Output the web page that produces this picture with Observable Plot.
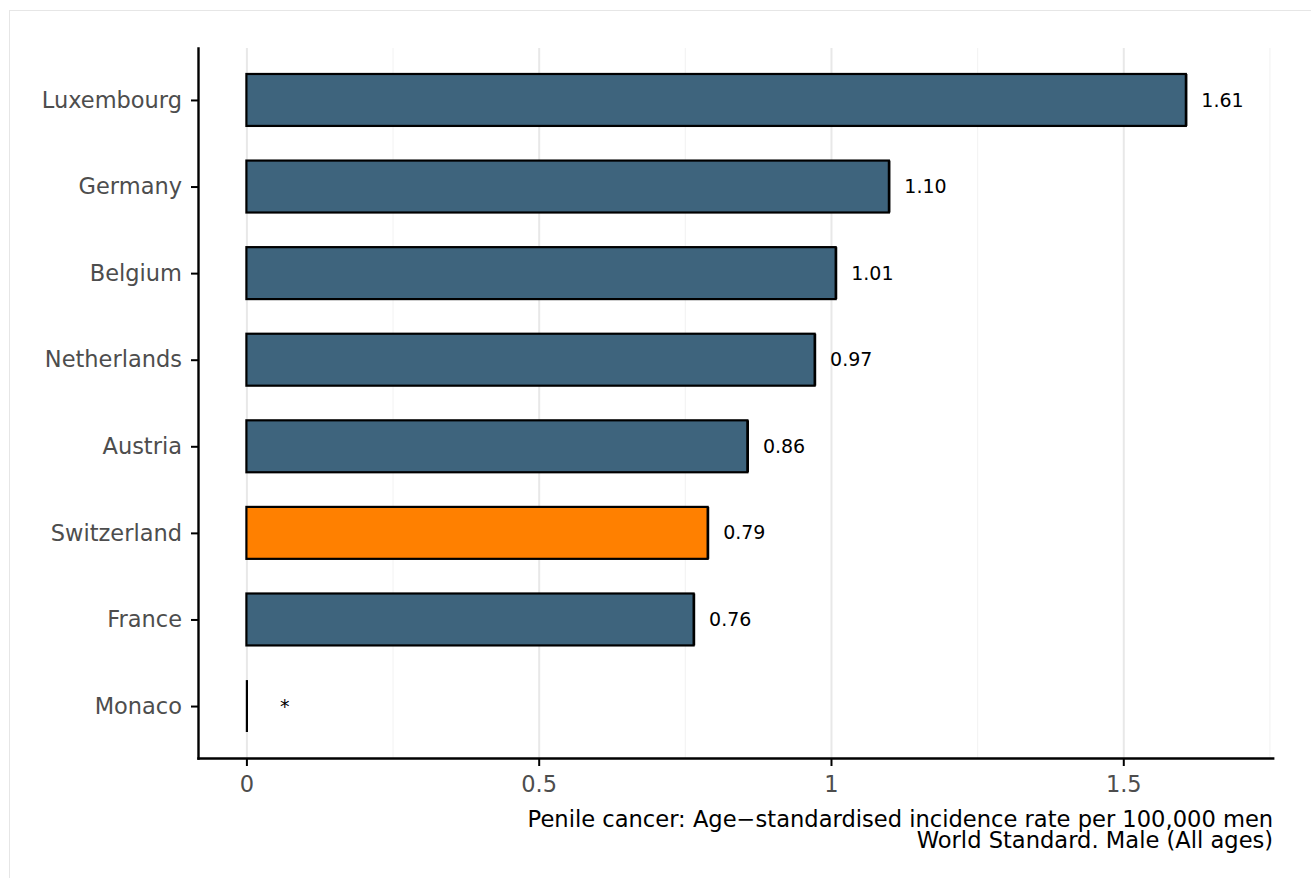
<!DOCTYPE html>
<html>
<head>
<meta charset="utf-8">
<script src="https://cdn.jsdelivr.net/npm/d3@7"></script>
<script src="https://cdn.jsdelivr.net/npm/@observablehq/plot@0.6"></script>
<style>
  html, body { margin: 0; padding: 0; background: #fff; overflow: hidden; }
  #wrap { position: relative; width: 1311px; height: 878px; }
  #border { position: absolute; left: 9px; top: 9.5px; width: 1400px; height: 1000px; border: 1.5px solid #e6e6e6; }
  #chart { position: absolute; left: 0; top: 0; }
  g[aria-label="y-axis tick label"], g[aria-label="x-axis tick label"] { fill: #4d4d4d; }
  g[aria-label="y-axis tick"], g[aria-label="x-axis tick"] { stroke: #000; stroke-width: 2px; }
</style>
</head>
<body>
<div id="wrap"><div id="border"></div><div id="chart"></div></div>
<script>
const countries = ["Luxembourg", "Germany", "Belgium", "Netherlands", "Austria", "Switzerland", "France", "Monaco"];
const rates = [1.607, 1.099, 1.008, 0.972, 0.857, 0.789, 0.765, 0];
const valueLabels = ["1.61", "1.10", "1.01", "0.97", "0.86", "0.79", "0.76", "*"];
const highlighted = "Switzerland";
const xTicks = [0, 0.5, 1, 1.5];
const xTickLabels = ["0", "0.5", "1", "1.5"];
const xMinorTicks = [0.25, 0.75, 1.25, 1.75];
const captionLines = ["Penile cancer: Age\u2212standardised incidence rate per 100,000 men", "World Standard. Male (All ages)"];

const data = countries.map((c, i) => ({country: c, value: rates[i], label: valueLabels[i]}));
const barColor = "#3e647d";
const hiColor = "#ff8000";
const fmtX = d => xTickLabels[xTicks.indexOf(d)];

const plot = Plot.plot({
  width: 1311,
  height: 878,
  marginLeft: 198,
  marginRight: 38.3,
  marginTop: 48,
  marginBottom: 120,
  style: {fontFamily: "'DejaVu Sans', sans-serif", background: "transparent"},
  x: {domain: [-0.0828, 1.7556], ticks: xTicks, tickFormat: fmtX, tickSize: 8, tickPadding: 10, label: null},
  y: {domain: countries, paddingInner: 0.4, paddingOuter: 0.3, round: false, tickSize: 7, tickPadding: 9.5, label: null},
  marks: [
    Plot.ruleX(xMinorTicks, {stroke: "#f4f4f4", strokeWidth: 1.2}),
    Plot.ruleX(xTicks, {stroke: "#e8e8e8", strokeWidth: 2}),
    Plot.barX(data, {y: "country", x1: 0, x2: "value", fill: d => d.country === highlighted ? hiColor : barColor, stroke: "#000", strokeWidth: 2.2}),
    Plot.tickX(data, {x: "value", y: "country", stroke: "#000", strokeWidth: 2.2}),
    Plot.text(data.filter(d => d.value > 0), {x: "value", y: "country", text: "label", textAnchor: "start", dx: 15, fontSize: 19, fill: "#000"}),
    Plot.text(data.filter(d => d.value === 0), {x: "value", y: "country", text: "label", textAnchor: "start", dx: 33, fontSize: 19, fill: "#000"}),
    Plot.axisY({tickSize: 7, tickPadding: 9.5, fontSize: 22.5, label: null}),
    Plot.axisX({ticks: xTicks, tickFormat: fmtX, tickSize: 8, tickPadding: 10, fontSize: 22.5, label: null}),
    Plot.frame({anchor: "left", stroke: "#000", strokeWidth: 2.4}),
    Plot.frame({anchor: "bottom", stroke: "#000", strokeWidth: 2.4}),
    Plot.text([captionLines.join("\n")], {frameAnchor: "bottom-right", textAnchor: "end", lineAnchor: "top", dy: 53, fontSize: 22.6, lineHeight: 0.95, fill: "#000"})
  ]
});
document.getElementById("chart").appendChild(plot);
</script>
</body>
</html>
